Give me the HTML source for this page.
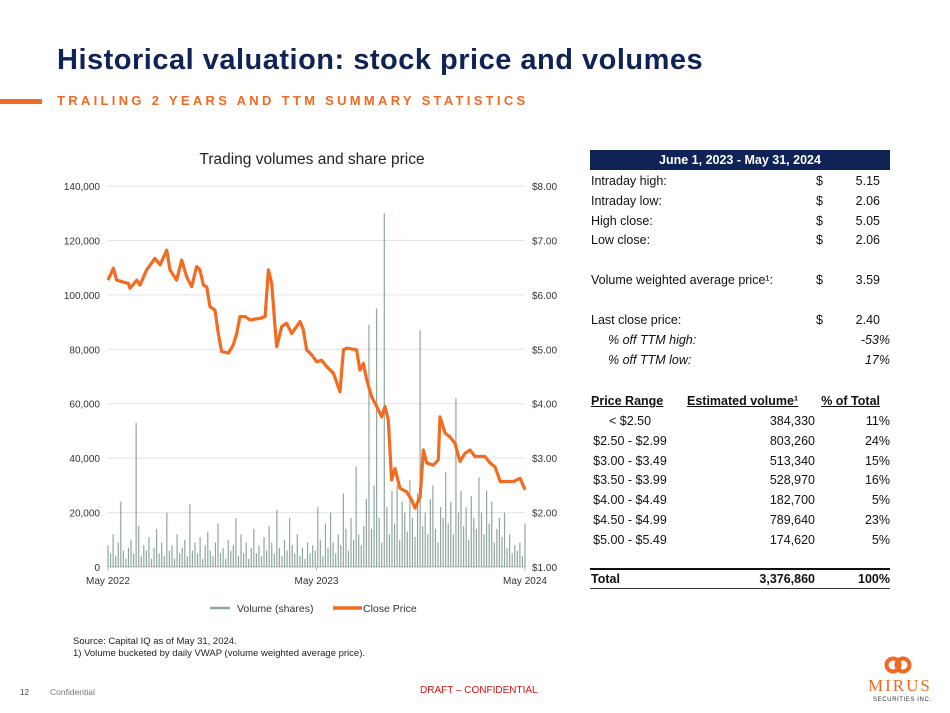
<!DOCTYPE html>
<html><head><meta charset="utf-8"><style>
body{margin:0;width:950px;height:713px;background:#fff;font-family:"Liberation Sans",sans-serif;position:relative;overflow:hidden}
.abs{position:absolute;white-space:nowrap}
.t{font-size:12.5px;color:#111}
</style></head><body>
<div class="abs" style="left:57px;top:44px;font-size:29px;font-weight:bold;color:#0f2357;letter-spacing:0.5px">Historical valuation: stock price and volumes</div>
<div class="abs" style="left:0;top:99px;width:42px;height:5px;background:#f06a24"></div>
<div class="abs" style="left:57px;top:93px;font-size:13px;font-weight:bold;color:#f06a24;letter-spacing:3.3px">TRAILING 2 YEARS AND TTM SUMMARY STATISTICS</div>

<svg id="chart" class="abs" style="left:0;top:0" width="580" height="630"></svg>

<div>
<div class="abs" style="left:590px;top:150px;width:300px;height:20px;background:#0f2357;color:#fff;font-weight:bold;font-size:12.5px;text-align:center;line-height:20px">June 1, 2023 - May 31, 2024</div>
</div>
<div id="tbl"></div>

<div class="abs" style="left:73px;top:636px;font-size:9.5px;color:#222;line-height:12px">Source: Capital IQ as of May 31, 2024.<br>1) Volume bucketed by daily VWAP (volume weighted average price).</div>
<div class="abs" style="left:20px;top:688px;font-size:8px;color:#444">12</div>
<div class="abs" style="left:50px;top:687px;font-size:8.5px;color:#777">Confidential</div>
<div class="abs" style="left:420px;top:685px;font-size:10px;color:#d11">DRAFT – CONFIDENTIAL</div>
<div>
<svg class="abs" style="left:883px;top:655px" width="30" height="20"><circle cx="10" cy="10" r="6.5" fill="none" stroke="#f06a24" stroke-width="4"/><circle cx="20" cy="10" r="6.5" fill="none" stroke="#f06a24" stroke-width="4"/></svg>
<div class="abs" style="left:868px;top:676px;font-family:'Liberation Serif',serif;font-size:17px;color:#f06a24;letter-spacing:2px">MIRUS</div>
<div class="abs" style="left:873px;top:697px;font-size:6px;color:#333;letter-spacing:0.6px">SECURITIES INC.</div>
</div>

<script>
const priceMonths=[0,0.31,0.5,1.17,1.27,1.65,1.84,2.23,2.7,3.0,3.38,3.57,3.95,4.24,4.53,4.82,5.1,5.29,5.49,5.68,5.87,6.16,6.35,6.54,6.93,7.21,7.41,7.6,7.89,8.17,8.75,9.04,9.23,9.42,9.61,9.71,10.0,10.28,10.57,10.86,11.05,11.24,11.43,11.72,12.01,12.3,12.59,12.97,13.35,13.55,13.74,14.31,14.5,14.7,14.89,15.17,15.46,15.75,15.94,16.13,16.32,16.52,16.8,17.19,17.48,17.67,17.96,18.15,18.34,18.72,19.01,19.11,19.4,19.68,19.97,20.26,20.55,20.84,21.12,21.41,21.7,21.99,22.28,22.57,22.95,23.34,23.72,24.0];
const closePrices=[6.27,6.49,6.27,6.21,6.12,6.27,6.18,6.46,6.67,6.55,6.82,6.46,6.27,6.64,6.33,6.15,6.52,6.46,6.18,6.15,5.78,5.72,5.29,4.96,4.93,5.08,5.29,5.6,5.6,5.54,5.57,5.6,6.46,6.21,5.42,5.05,5.42,5.48,5.29,5.42,5.51,5.36,4.99,4.9,4.77,4.8,4.68,4.56,4.22,4.99,5.02,4.99,4.62,4.74,4.44,4.13,3.95,3.76,3.95,3.7,2.6,2.81,2.45,2.38,2.23,2.08,2.29,3.15,2.91,2.87,2.97,3.76,3.46,3.39,3.27,2.94,3.09,3.15,3.03,3.03,3.03,2.91,2.84,2.57,2.57,2.57,2.63,2.42];
const volumes=[8,5,12,4,9,24,6,3,7,10,5,53,15,4,8,6,11,3,7,14,5,9,4,20,6,8,3,12,5,7,10,4,23,6,9,5,11,3,8,13,6,4,9,16,5,7,3,10,6,8,18,4,12,5,9,3,7,14,5,8,4,11,6,15,9,5,21,7,4,10,6,18,8,5,12,4,7,3,9,5,8,6,22,10,4,16,7,20,9,5,12,8,27,14,6,18,10,37,12,8,15,25,89,14,30,95,18,9,130,22,12,28,16,30,10,24,20,13,32,18,11,27,87,15,20,12,25,30,14,9,22,18,35,16,24,12,62,20,28,15,22,10,26,18,14,33,20,12,28,16,24,9,14,18,11,20,7,12,5,8,6,9,4,16];
const priceTicks=[1,2,3,4,5,6,7,8];
const volTicks=[0,20000,40000,60000,80000,100000,120000,140000];
const xTickLabels=["May 2022","May 2023","May 2024"];
const xTickMonths=[0,12,24];

const NS="http://www.w3.org/2000/svg";
const svg=document.getElementById('chart');
const X0=108,X1=525,Y0=567,Y1=186;
const xScale=m=>X0+(X1-X0)*m/24;
const vScale=v=>Y0-(Y0-Y1)*v/140000;
const pScale=p=>Y0-(Y0-Y1)*(p-1)/7;
function mk(tag,attrs,parent){const e=document.createElementNS(NS,tag);for(const k in attrs)e.setAttribute(k,attrs[k]);(parent||svg).appendChild(e);return e;}
const title=mk('text',{x:312,y:164,'font-size':15.5,'text-anchor':'middle',fill:'#222','font-family':'Liberation Sans'});title.textContent='Trading volumes and share price';


volTicks.forEach((v,i)=>{
  const y=vScale(v);
  const g=mk('line',{x1:X0,x2:X1,y1:y,y2:y,stroke:i==0?'#bbb':'#e3e3e3','stroke-width':1});
  
  
  const t=mk('text',{x:100,y:y+4,'font-size':10,'text-anchor':'end',fill:'#333','font-family':'Liberation Sans'});t.textContent=v.toLocaleString('en-US');
  
  
});
priceTicks.forEach(p=>{
  const t=mk('text',{x:532,y:pScale(p)+4,'font-size':10,fill:'#333','font-family':'Liberation Sans'});t.textContent='$'+p.toFixed(2);
  
  
});
xTickLabels.forEach((l,i)=>{
  const x=xScale(xTickMonths[i]);
  mk('line',{x1:x,x2:x,y1:Y0,y2:Y0+4,stroke:'#bbb'});
  const t=mk('text',{x:x,y:584,'font-size':10,'text-anchor':'middle',fill:'#333','font-family':'Liberation Sans'});t.textContent=l;
  
  
});
volumes.forEach((v,i)=>{
  const m=i*24/(volumes.length-1);
  const x=xScale(m);
  const b=mk('rect',{x:x-0.6,y:vScale(v*1000),width:1.2,height:Y0-vScale(v*1000),fill:'#5f8373',opacity:0.7});
  
  
});
const d=closePrices.map((p,i)=>(i?'L':'M')+xScale(priceMonths[i]).toFixed(1)+','+pScale(p).toFixed(1)).join(' ');
const line=mk('path',{d:d,fill:'none',stroke:'#f26b21','stroke-width':3.2,'stroke-linejoin':'round'});


const lg=mk('g',{});


mk('line',{x1:210,x2:230,y1:608,y2:608,stroke:'#8aa99b','stroke-width':2.5},lg);
const l1=mk('text',{x:237,y:612,'font-size':10.5,fill:'#333','font-family':'Liberation Sans'},lg);l1.textContent='Volume (shares)';
mk('line',{x1:333,x2:362,y1:608,y2:608,stroke:'#f26b21','stroke-width':3.5},lg);
const l2=mk('text',{x:363,y:612,'font-size':10.5,fill:'#333','font-family':'Liberation Sans'},lg);l2.textContent='Close Price';

const tbl=document.getElementById('tbl');
function cell(txt,left,top,style,name){
  const e=document.createElement('div');e.className='abs t';e.textContent=txt;
  e.style.cssText+=`left:${left}px;top:${top}px;`+(style||'');
  
  
  tbl.appendChild(e);return e;
}
const stats=[["Intraday high:","5.15",174],["Intraday low:","2.06",194],["High close:","5.05",214],["Low close:","2.06",233],["Volume weighted average price¹:","3.59",273],["Last close price:","2.40",313]];
stats.forEach(s=>{cell(s[0],591,s[2],'','stat-label');cell('$',816,s[2],'','stat-currency');cell(s[1],0,s[2],'width:880px;text-align:right','stat-value');});
cell('% off TTM high:',608,333,'font-style:italic','stat-label');cell('-53%',0,333,'width:890px;text-align:right;font-style:italic','stat-value');
cell('% off TTM low:',608,353,'font-style:italic','stat-label');cell('17%',0,353,'width:890px;text-align:right;font-style:italic','stat-value');
cell('Price Range',591,394,'font-weight:bold;text-decoration:underline','range-header');
cell('Estimated volume¹',687,394,'font-weight:bold;text-decoration:underline','volume-header');
cell('% of Total',0,394,'width:880px;text-align:right;font-weight:bold;text-decoration:underline','pct-header');
const ranges=[["< $2.50","384,330","11%"],["$2.50 - $2.99","803,260","24%"],["$3.00 - $3.49","513,340","15%"],["$3.50 - $3.99","528,970","16%"],["$4.00 - $4.49","182,700","5%"],["$4.50 - $4.99","789,640","23%"],["$5.00 - $5.49","174,620","5%"]];
ranges.forEach((r,i)=>{const y=414+i*19.8;
  cell(r[0],560,y,'width:140px;text-align:center','range-label');
  cell(r[1],0,y,'width:815px;text-align:right','range-volume');
  cell(r[2],0,y,'width:890px;text-align:right','range-pct');});
const hr1=document.createElement('div');hr1.className='abs';hr1.style.cssText='left:590px;top:568px;width:300px;height:1.5px;background:#111';tbl.appendChild(hr1);
const hr2=document.createElement('div');hr2.className='abs';hr2.style.cssText='left:590px;top:588px;width:300px;height:1px;background:#333';tbl.appendChild(hr2);
cell('Total',591,572,'font-weight:bold','total-label');
cell('3,376,860',0,572,'width:815px;text-align:right;font-weight:bold','total-volume');
cell('100%',0,572,'width:890px;text-align:right;font-weight:bold','total-pct');
</script>
</body></html>
